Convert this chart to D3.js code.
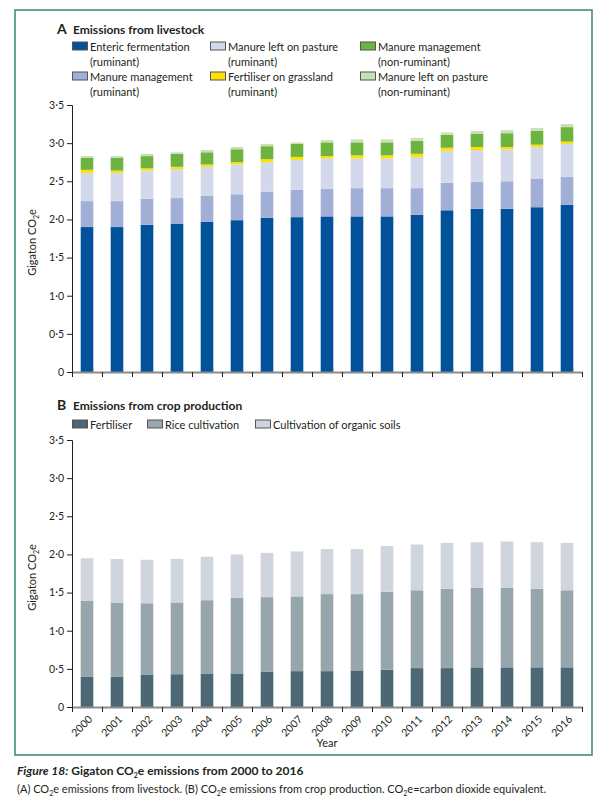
<!DOCTYPE html>
<html><head><meta charset="utf-8">
<script src="https://cdn.jsdelivr.net/npm/d3@7"></script>
<style>
body{margin:0;background:#fff;}
svg{display:block;font-family:Lato,"Open Sans",sans-serif;}
</style></head>
<body><svg id="c" width="603" height="807"></svg>
<script>
const years = ["2000","2001","2002","2003","2004","2005","2006","2007","2008","2009","2010","2011","2012","2013","2014","2015","2016"];
const yTicks = [0,0.5,1,1.5,2,2.5,3,3.5];

// Panel A: livestock
const livestockKeys = ["enteric","mmRum","pastRum","fertGrass","mmNonRum","pastNonRum"];
const livestockLabels = [["Enteric fermentation","(ruminant)"],["Manure management","(ruminant)"],["Manure left on pasture","(ruminant)"],["Fertiliser on grassland","(ruminant)"],["Manure management","(non-ruminant)"],["Manure left on pasture","(non-ruminant)"]];
const livestockColors = ["#01529b","#a1afd6","#d3d8eb","#ffe100","#6db33f","#c7e0b5"];
const enteric    = [1.90,1.90,1.93,1.94,1.97,1.99,2.02,2.03,2.04,2.04,2.04,2.06,2.12,2.14,2.14,2.16,2.19];
const mmRum      = [0.34,0.34,0.34,0.34,0.34,0.34,0.34,0.36,0.36,0.37,0.37,0.35,0.36,0.35,0.36,0.37,0.37];
const pastRum    = [0.37,0.37,0.37,0.38,0.38,0.39,0.39,0.39,0.40,0.39,0.39,0.41,0.42,0.42,0.42,0.42,0.43];
const fertGrass  = [0.04,0.03,0.03,0.03,0.03,0.03,0.04,0.04,0.03,0.04,0.04,0.04,0.04,0.04,0.03,0.03,0.03];
const mmNonRum   = [0.16,0.17,0.16,0.17,0.16,0.17,0.17,0.17,0.18,0.17,0.17,0.17,0.17,0.17,0.18,0.18,0.19];
const pastNonRum = [0.02,0.02,0.03,0.02,0.03,0.03,0.03,0.02,0.03,0.04,0.04,0.04,0.03,0.04,0.04,0.04,0.04];

// Panel B: crop production
const cropKeys = ["fert","rice","organic"];
const cropLabels = ["Fertiliser","Rice cultivation","Cultivation of organic soils"];
const cropColors = ["#4b6874","#97a6ad","#d0d5dd"];
const cropFert    = [0.40,0.40,0.42,0.43,0.44,0.44,0.46,0.47,0.47,0.48,0.49,0.51,0.51,0.52,0.52,0.52,0.52];
const cropRice    = [0.99,0.97,0.94,0.94,0.96,0.99,0.98,0.98,1.01,1.00,1.02,1.02,1.04,1.04,1.04,1.03,1.01];
const cropOrganic = [0.56,0.57,0.57,0.57,0.57,0.57,0.58,0.59,0.59,0.59,0.60,0.60,0.60,0.60,0.61,0.61,0.62];

const livestockData = years.map((y,i)=>({year:y,enteric:enteric[i],mmRum:mmRum[i],pastRum:pastRum[i],fertGrass:fertGrass[i],mmNonRum:mmNonRum[i],pastNonRum:pastNonRum[i]}));
const cropData = years.map((y,i)=>({year:y,fert:cropFert[i],rice:cropRice[i],organic:cropOrganic[i]}));

const svg = d3.select("#c");
const textCol = "#231f20";

// frame
svg.append("rect").attr("x",15).attr("y",10).attr("width",577).attr("height",745)
  .attr("fill","none").attr("stroke","#3f936a").attr("stroke-width",1.6);

const x = d3.scaleBand().domain(years).range([72,582]).paddingInner(0.58).paddingOuter(0.29);
const xb = d3.scaleLinear().domain([0,years.length]).range([72,582]);
const fmt = v => v===0 ? "0" : d3.format(".1f")(v).replace(".","·");

function panel(opts){
  const {top,bottom,data,keys,colors,showYears} = opts;
  const y = d3.scaleLinear().domain([0,3.5]).range([bottom,top]);
  const g = svg.append("g");
  const stack = d3.stack().keys(keys)(data);
  g.selectAll("g.s").data(stack).join("g").attr("fill",(d,i)=>colors[i])
    .selectAll("rect").data(d=>d).join("rect")
    .attr("x",d=>x(d.data.year)).attr("width",x.bandwidth())
    .attr("y",d=>y(d[1])).attr("height",d=>y(d[0])-y(d[1]));
  // y axis
  const ya = g.append("g").attr("transform","translate(72,0)")
    .call(d3.axisLeft(y).tickValues(yTicks).tickFormat(fmt).tickSize(5).tickPadding(3));
  ya.select(".domain").attr("stroke",textCol).attr("stroke-width",1);
  ya.selectAll(".tick line").attr("stroke",textCol);
  ya.selectAll("text").attr("fill",textCol).style("font-size","10.5px").style("font-family","Lato,sans-serif");
  // x axis
  const xa = g.append("g").attr("transform",`translate(0,${bottom})`)
    .call(d3.axisBottom(xb).tickValues(d3.range(years.length+1)).tickFormat("").tickSize(5).tickSizeOuter(0));
  xa.select(".domain").attr("stroke","#8c8c8c").attr("stroke-width",2);
  xa.selectAll(".tick line").attr("stroke",textCol);
  if(showYears){
    g.selectAll("text.yr").data(years).join("text").attr("class","yr")
      .attr("transform",d=>`translate(${x(d)+x.bandwidth()/2+6},${bottom+13}) rotate(-45)`)
      .attr("text-anchor","end").attr("fill",textCol).style("font-size","10.5px").text(d=>d);
  }
  // y label
  const yl = g.append("text").attr("transform",`translate(36,${(top+bottom)/2+4}) rotate(-90)`)
    .attr("text-anchor","middle").attr("fill",textCol).style("font-size","11px");
  yl.append("tspan").text("Gigaton CO");
  yl.append("tspan").text("2").style("font-size","7px").attr("dy",3);
  yl.append("tspan").text("e").attr("dy",-3);
  return y;
}

function title(letter,txt,yy){
  svg.append("text").attr("x",57).attr("y",yy).attr("fill",textCol).style("font-size","14px").style("font-weight","bold").text(letter);
  svg.append("text").attr("x",73).attr("y",yy).attr("fill",textCol).style("font-size","12px").style("font-weight","bold").text(txt);
}

// Panel A
title("A","Emissions from livestock",34);
const legA = [[72.5,42],[72.5,72],[210.5,42],[210.5,72],[360.5,42],[360.5,72]];
livestockKeys.forEach((k,i)=>{
  const [lx,ly] = legA[i];
  svg.append("rect").attr("x",lx).attr("y",ly).attr("width",15).attr("height",8)
    .attr("fill",livestockColors[i]).attr("stroke","#555").attr("stroke-width",1);
  svg.append("text").attr("x",lx+17.5).attr("y",ly+8.5).attr("fill",textCol).style("font-size","11px").text(livestockLabels[i][0]);
  svg.append("text").attr("x",lx+17.5).attr("y",ly+24).attr("fill",textCol).style("font-size","11px").text(livestockLabels[i][1]);
});
panel({top:105,bottom:372,data:livestockData,keys:livestockKeys,colors:livestockColors,showYears:false});

// Panel B
title("B","Emissions from crop production",410);
const legB = [72.5,147.5,255.5];
cropKeys.forEach((k,i)=>{
  svg.append("rect").attr("x",legB[i]).attr("y",420).attr("width",15).attr("height",8)
    .attr("fill",cropColors[i]).attr("stroke","#555").attr("stroke-width",1);
  svg.append("text").attr("x",legB[i]+17.5).attr("y",428.5).attr("fill",textCol).style("font-size","11px").text(cropLabels[i]);
});
panel({top:440,bottom:707,data:cropData,keys:cropKeys,colors:cropColors,showYears:true});

svg.append("text").attr("x",327).attr("y",747).attr("text-anchor","middle").attr("fill",textCol).style("font-size","11px").text("Year");

// caption
const cap1 = svg.append("text").attr("x",17).attr("y",775).attr("fill",textCol).style("font-size","12px").style("font-weight","bold");
cap1.append("tspan").text("Figure 18:").style("font-style","italic");
cap1.append("tspan").text(" Gigaton CO");
cap1.append("tspan").text("2").style("font-size","7px").attr("dy",3);
cap1.append("tspan").text("e emissions from 2000 to 2016").attr("dy",-3);
const cap2 = svg.append("text").attr("x",17).attr("y",793).attr("fill",textCol).style("font-size","11px");
[["(A) CO",0],["2",1],["e emissions from livestock. (B) CO",0],["2",1],["e emissions from crop production. CO",0],["2",1],["e=carbon dioxide equivalent.",0]].forEach(([t,s],i,arr)=>{
  const ts = cap2.append("tspan").text(t);
  if(s){ts.style("font-size","7px").attr("dy",3);} else if(i>0){ts.attr("dy",-3);}
});
</script></body></html>
